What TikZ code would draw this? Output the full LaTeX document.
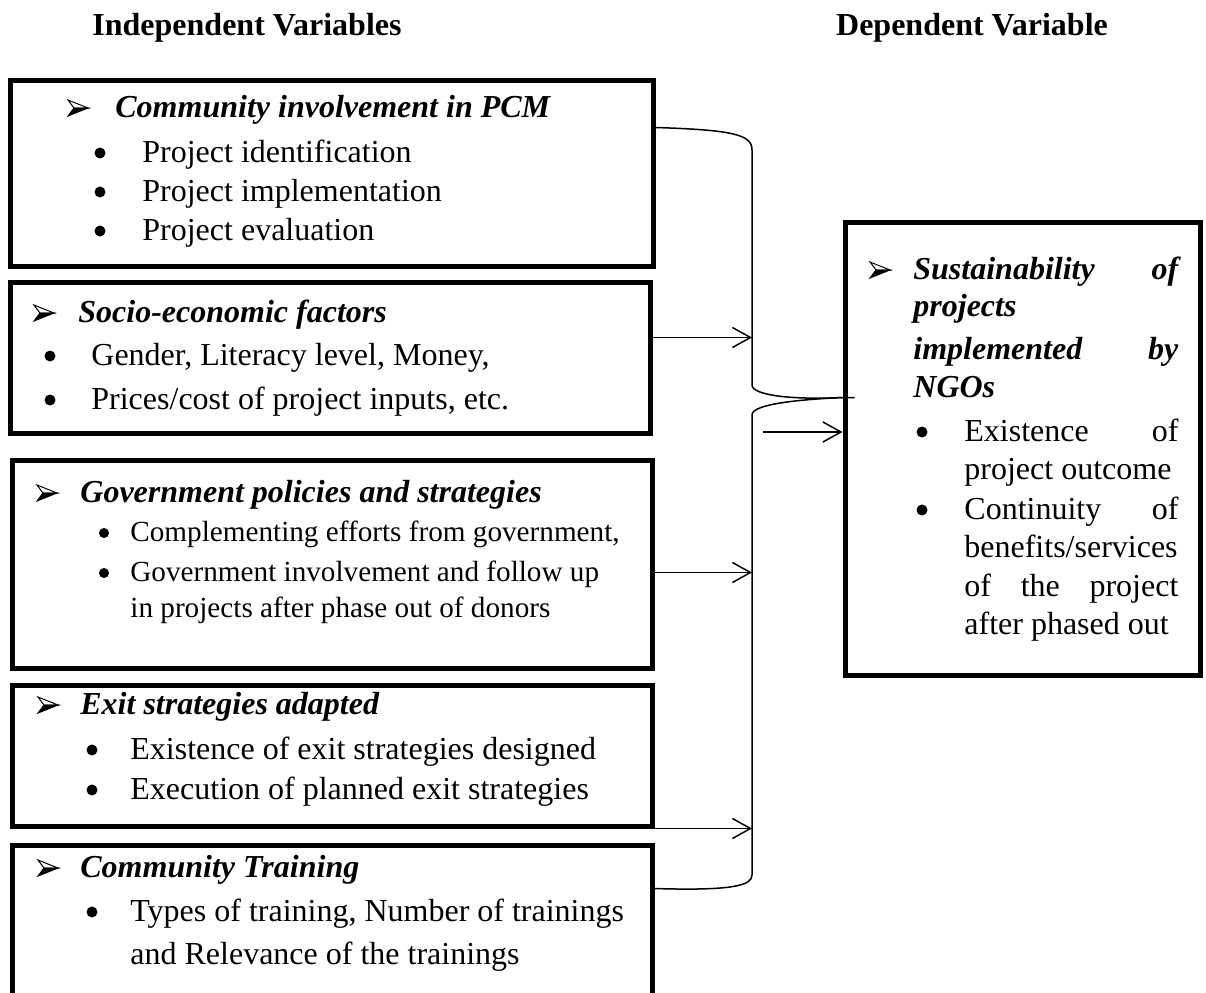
\documentclass[tikz,border=0pt]{standalone}
\usepackage{fontspec}
\setmainfont{Liberation Serif}
\usetikzlibrary{arrows.meta,calc,fit}

\newcommand{\spread}[2]{\makebox[#1][s]{#2}}

\begin{document}
\begin{tikzpicture}[x=0.5pt,y=-0.5pt,font=\fontsize{16}{20}\selectfont,
	var/.style={draw,line width=2.5pt,inner sep=0pt},
	title/.style={font=\fontsize{16}{20}\selectfont\bfseries},
	head/.style={anchor=base west,inner sep=0pt,font=\fontsize{16}{20}\selectfont\bfseries\itshape},
	item/.style={anchor=base west,inner sep=0pt},
	small/.style={item,font=\fontsize{14.6}{18}\selectfont},
	bul/.style={circle,fill,inner sep=0pt,minimum size=5.5pt},
	cue/.pic={
		\filldraw[line width=0.5pt,fill=white,line join=miter] (0,0) -- (-20,-8) -- (-14,0) -- cycle;
		\filldraw[line width=0.5pt,line join=miter] (0,0) -- (-14,0) -- (-20,8) -- cycle;},
	conn/.style={line width=0.75pt},
	feed/.style={conn,-{Straight Barb[length=9pt,width=10pt,line width=0.75pt]}}]
	\useasboundingbox (0,0) rectangle (1206,992);

	% headings
	\node[title] (indep) at (247,28) {Independent Variables};
	\node[title] (dep) at (972,28) {Dependent Variable};

	% independent variables
	\node[var,fit={(10,80) (653,266)}] (comm) {};
	\pic at (88,108) {cue};
	\node[head] (h1) at (115,117) {Community involvement in PCM};
	\node[bul] (d11) at (100,153) {};
	\node[item] (t11) at (142,162) {Project identification};
	\node[bul] (d12) at (100,192) {};
	\node[item] (t12) at (142,201) {Project implementation};
	\node[bul] (d13) at (100,231) {};
	\node[item] (t13) at (142,240) {Project evaluation};

	\node[var,fit={(10,282) (650,433)}] (socio) {};
	\pic at (54,313) {cue};
	\node[head] (h2) at (78,322) {Socio-economic factors};
	\node[bul] (d21) at (50,356) {};
	\node[item] (t21) at (91,365) {Gender, Literacy level, Money,};
	\node[bul] (d22) at (50,400) {};
	\node[item] (t22) at (91,409) {Prices/cost of project inputs, etc.};

	\node[var,fit={(12,460) (652,668)}] (gov) {};
	\pic at (57,493) {cue};
	\node[head] (h3) at (80,502) {Government policies and strategies};
	\node[bul,minimum size=5pt] (d31) at (104,533) {};
	\node[small] (t31) at (130,541) {Complementing efforts from government,};
	\node[bul,minimum size=5pt] (d32) at (104,573) {};
	\node[small] (t32) at (130,581) {Government involvement and follow up};
	\node[small] (t33) at (130,617) {in projects after phase out of donors};

	\node[var,fit={(12,685) (652,826)}] (exit) {};
	\pic at (58,705) {cue};
	\node[head] (h4) at (80,714) {Exit strategies adapted};
	\node[bul] (d41) at (92,750) {};
	\node[item] (t41) at (130,759) {Existence of exit strategies designed};
	\node[bul] (d42) at (92,790) {};
	\node[item] (t42) at (130,799) {Execution of planned exit strategies};

	\node[var,fit={(12,845) (652,1000)}] (train) {};
	\pic at (58,868) {cue};
	\node[head] (h5) at (80,877) {Community Training};
	\node[bul] (d51) at (92,912) {};
	\node[item] (t51) at (130,921) {Types of training, Number of trainings};
	\node[item] (t52) at (130,964) {and Relevance of the trainings};

	% dependent variable
	\node[var,fit={(845,222) (1200,675)}] (sust) {};
	\pic at (890,270) {cue};
	\node[head] (h61) at (913,279) {\spread{132.5pt}{Sustainability of}};
	\node[head] (h62) at (913,316) {projects};
	\node[head] (h63) at (913,359) {\spread{132.5pt}{implemented by}};
	\node[head] (h64) at (913,397) {NGOs};
	\node[bul] (d61) at (922,432) {};
	\node[item] (t61) at (964,441) {\spread{107pt}{Existence of}};
	\node[item] (t62) at (964,479) {project outcome};
	\node[bul] (d62) at (922,510) {};
	\node[item] (t63) at (964,519) {\spread{107pt}{Continuity of}};
	\node[item] (t64) at (964,557) {benefits/services};
	\node[item] (t65) at (964,596) {\spread{107pt}{of the project}};
	\node[item] (t66) at (964,634) {after phased out};

	% brackets
	\coordinate (spine) at (752,0);
	\coordinate (joint) at ($(sust.north west)+(0,178)$);
	\draw[conn] ($(comm.north east)+(0,50)$) .. controls (735,130) and (752,135) .. (752,150)
		-- (752,385) .. controls (752,395) and (790,400) .. (joint) -- ++(12,0);
	\draw[conn] (joint) .. controls (790,400) and (752,405) .. (752,415)
		-- (752,875) .. controls (752,885) and (735,891) .. ($(train.north east)+(0,46)$);

	% arrows
	\draw[feed] ($(socio.north east)+(0,58)$) coordinate (a2) -- (a2 -| spine);
	\draw[feed] ($(gov.north east)+(0,115)$) coordinate (a3) -- (a3 -| spine);
	\draw[feed] (exit.south east) coordinate (a4) -- (a4 -| spine);
	\coordinate (into) at (763,432);
	\draw[feed] (into) -- (into -| sust.west);
\end{tikzpicture}
\end{document}
